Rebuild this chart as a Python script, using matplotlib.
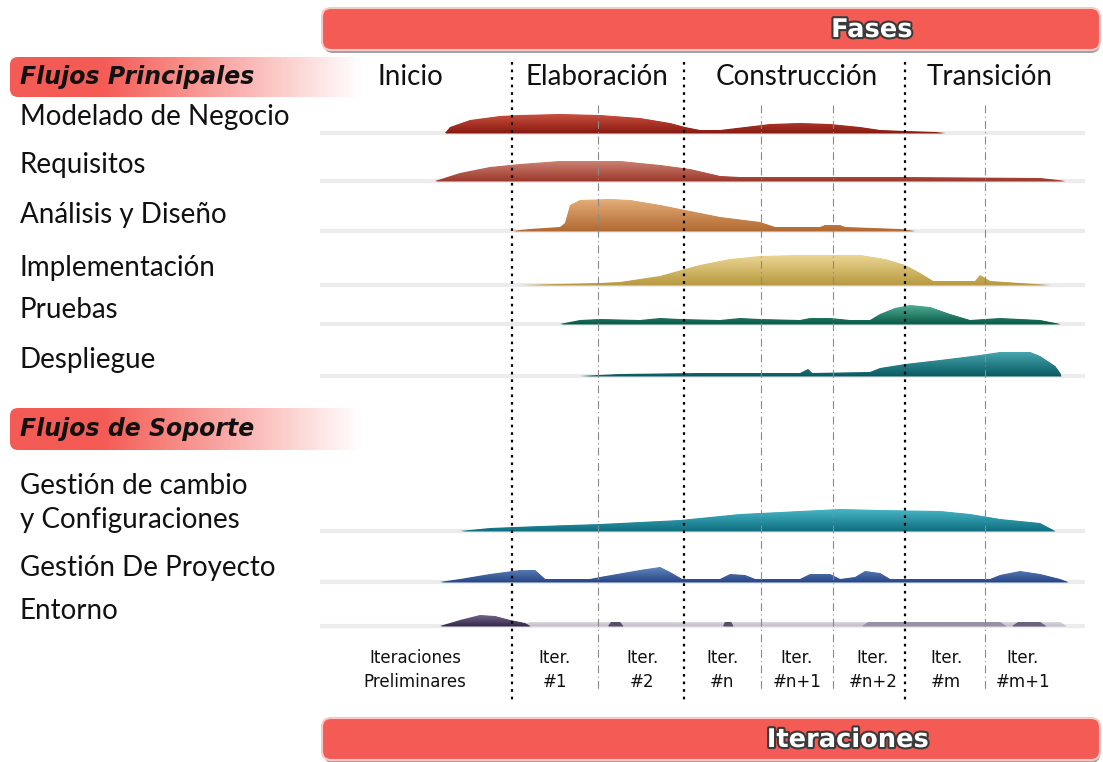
import numpy as np
import matplotlib
matplotlib.use('Agg')
import matplotlib.pyplot as plt
from matplotlib.patches import FancyBboxPatch
from matplotlib.colors import to_rgba
import matplotlib.patheffects as pe

# ---- data ----
phase_names = ["Inicio", "Elaboración", "Construcción", "Transición"]
phase_label_x = [410, 597, 797, 990]
phase_bounds = [512, 684, 905]
iter_bounds = [598, 761, 833, 985]
iter_labels = ["Iteraciones\nPreliminares", "Iter.\n#1", "Iter.\n#2", "Iter.\n#n",
               "Iter.\n#n+1", "Iter.\n#n+2", "Iter.\n#m", "Iter.\n#m+1"]
iter_label_x = [415, 555, 642, 722, 797, 873, 946, 1023]

flow_names = ["Modelado de Negocio", "Requisitos", "Análisis y Diseño",
              "Implementación", "Pruebas", "Despliegue",
              "Gestión de cambio\ny Configuraciones", "Gestión De Proyecto", "Entorno"]
flow_label_y = [117, 165, 215, 268, 310, 360, 503, 568, 611]
baselines = [133, 181, 231, 285, 324, 376, 531, 582, 626]

# effort profiles: time position and hump height
modelado_t = [445, 450, 470, 500, 520, 560, 600, 640, 670, 685, 700, 720, 745, 770, 800, 830, 860, 880, 905, 935, 945]
modelado_h = [0, 6, 13, 17, 18, 19, 18, 15, 10, 6, 3, 3, 6, 9, 10, 9, 6, 3, 2, 1, 0]
requisitos_t = [435, 460, 490, 520, 560, 620, 660, 690, 720, 740, 900, 1040, 1058, 1065]
requisitos_h = [0, 8, 14, 17, 20, 20, 16, 12, 5, 4, 4, 3, 1, 0]
analisis_t = [512, 530, 560, 565, 570, 580, 610, 630, 660, 690, 720, 760, 775, 820, 825, 840, 845, 900, 915]
analisis_h = [0, 2, 4, 8, 26, 31, 32, 31, 26, 20, 14, 9, 4, 4, 6, 6, 4, 2, 0]
implem_t = [520, 560, 600, 620, 640, 660, 685, 700, 730, 760, 800, 860, 885, 905, 920, 933, 975, 980, 990, 1020, 1050]
implem_h = [0, 1, 2, 3, 6, 9, 16, 20, 26, 29, 30, 30, 26, 20, 12, 4, 4, 10, 4, 2, 0]
pruebas_t = [560, 580, 600, 640, 660, 680, 720, 740, 760, 800, 810, 830, 850, 870, 880, 895, 910, 930, 950, 970, 1000, 1040, 1060]
pruebas_h = [0, 4, 5, 4, 6, 5, 4, 6, 5, 4, 6, 6, 4, 4, 10, 16, 19, 17, 10, 4, 6, 4, 0]
despl_t = [580, 620, 700, 800, 808, 812, 870, 880, 905, 940, 980, 1000, 1030, 1040, 1055, 1060, 1061]
despl_h = [0, 2, 3, 3, 7, 3, 4, 8, 12, 16, 21, 24, 24, 20, 10, 3, 0]
cambio_t = [460, 490, 540, 600, 680, 740, 800, 840, 880, 940, 970, 1000, 1040, 1055]
cambio_h = [0, 3, 5, 7, 11, 17, 20, 22, 21, 20, 17, 12, 8, 0]
proyecto_t = [440, 460, 490, 520, 535, 545, 590, 600, 640, 660, 670, 682, 720, 730, 745, 755, 800, 810, 830, 840,
              855, 865, 880, 890, 990, 1000, 1020, 1040, 1060, 1068]
proyecto_h = [0, 3, 8, 12, 12, 3, 3, 5, 12, 15, 10, 3, 3, 8, 7, 3, 3, 8, 8, 3,
              5, 11, 9, 3, 3, 7, 11, 8, 3, 0]
entorno_t = [440, 460, 480, 495, 510, 525, 530]
entorno_h = [0, 6, 11, 10, 6, 3, 0]
entorno_rest_t = [520, 530, 1060, 1066]
entorno_rest_h = [0, 4, 4, 0]
entorno_spots_t = [[608, 611, 620, 623], [723, 725, 731, 733], [862, 868, 1000, 1006], [1012, 1018, 1040, 1046]]
entorno_spots_h = [[0, 4, 4, 0], [0, 4, 4, 0], [0, 4, 4, 0], [0, 4, 4, 0]]

profiles = [(modelado_t, modelado_h), (requisitos_t, requisitos_h), (analisis_t, analisis_h),
            (implem_t, implem_h), (pruebas_t, pruebas_h), (despl_t, despl_h),
            (cambio_t, cambio_h), (proyecto_t, proyecto_h), (entorno_t, entorno_h)]
top_colors = ["#c8503f", "#cc8070", "#e4ad78", "#ead592", "#4fae95", "#45a6ae", "#47b6c6", "#6286bd", "#73648a"]
bottom_colors = ["#8a1a10", "#9c3a2c", "#b26a32", "#b89a40", "#0a5a48", "#0b5a62", "#0f6f80", "#28478a", "#352a4c"]
spot_colors = ["#5a4f6c", "#5a4f6c", "#9a90a8", "#6e6280"]

RED = "#f45b55"

fig = plt.figure(figsize=(11.03, 7.62), dpi=100)
ax = fig.add_axes([0, 0, 1, 1])
ax.axis('off')


def gradient_fill(x, base, h, ctop, cbot, z=3):
    x = np.asarray(x, float)
    y = base - np.asarray(h, float)
    poly = ax.fill_between(x, base, y, color=cbot, lw=0, zorder=z)
    n = 64
    grad = np.zeros((n, 1, 4))
    c0, c1 = np.array(to_rgba(ctop)), np.array(to_rgba(cbot))
    for i in range(n):
        f = i / (n - 1)
        grad[i, 0] = c0 * (1 - f) + c1 * f
    top = base - max(h)
    im = ax.imshow(grad, extent=(x.min(), x.max(), base, top), origin='upper',
                   aspect='auto', zorder=z + 0.1, interpolation='bilinear')
    im.set_clip_path(poly.get_paths()[0], transform=ax.transData)


def red_bar(y0, y1, text, tx):
    shadow = FancyBboxPatch((324, y0 + 3), 776, y1 - y0, boxstyle="round,pad=0,rounding_size=9",
                            fc="#7a7a7a", ec="none", alpha=0.7, zorder=1)
    ax.add_patch(shadow)
    bar = FancyBboxPatch((322, y0), 778, y1 - y0, boxstyle="round,pad=0,rounding_size=9",
                         fc=RED, ec="#f7c9c6", lw=1.5, zorder=2)
    ax.add_patch(bar)
    ax.text(tx, (y0 + y1) / 2 + 1, text, color="white", fontsize=18.5, fontweight='bold',
            family='DejaVu Sans', ha='center', va='center', zorder=5,
            path_effects=[pe.withStroke(linewidth=3, foreground="#3a3a3a")])


def header(y0, y1, text):
    w = 370
    n = 200
    img = np.ones((1, n, 4))
    c = np.array(to_rgba(RED))
    for i in range(n):
        f = min(1.0, max(0.0, (i / (n - 1) - 0.25) / 0.7))
        img[0, i] = c * (1 - f) + np.array([1, 1, 1, 1]) * f
    box = FancyBboxPatch((10, y0), w, y1 - y0, boxstyle="round,pad=0,rounding_size=8",
                         fc="none", ec="none", transform=ax.transData)
    im = ax.imshow(img, extent=(10, 10 + w, y1, y0), origin='upper', aspect='auto',
                   zorder=1, interpolation='bilinear')
    im.set_clip_path(box)
    ax.text(20, (y0 + y1) / 2, text, fontsize=17, fontweight='bold', style='italic',
            family='DejaVu Sans', ha='left', va='center', zorder=5, color="#111111")


red_bar(8, 50, "Fases", 872)
red_bar(718, 760, "Iteraciones", 848)
header(57, 97, "Flujos Principales")
header(408, 450, "Flujos de Soporte")

for name, x in zip(phase_names, phase_label_x):
    ax.text(x, 77, name, fontsize=20, family='Lato', ha='center', va='center', color="#111111")

for name, y in zip(flow_names, flow_label_y):
    ax.text(20, y, name, fontsize=20, family='Lato', ha='left', va='center', color="#111111",
            linespacing=1.4)

for b in baselines:
    ax.plot([320, 1085], [b, b], color="#ececec", lw=3, zorder=1, solid_capstyle='butt')

for xb in phase_bounds:
    ax.plot([xb, xb], [62, 700], color="black", lw=1.6, ls=(0, (1.2, 2.2)), zorder=6)
for xb in iter_bounds:
    ax.plot([xb, xb], [105, 690], color="#8a8a8a", lw=0.8, ls=(0, (7, 3, 1, 3)), zorder=6)

for (t, h), b, ct, cb in zip(profiles, baselines, top_colors, bottom_colors):
    gradient_fill(t, b, h, ct, cb)
gradient_fill(entorno_rest_t, baselines[8], entorno_rest_h, "#dcd8e2", "#c2bccb", z=2.5)
for t, h, c in zip(entorno_spots_t, entorno_spots_h, spot_colors):
    gradient_fill(t, baselines[8], h, c, c, z=2.7)

for lab, x in zip(iter_labels, iter_label_x):
    ax.text(x, 670, lab, fontsize=12, family=['Liberation Sans Narrow', 'DejaVu Sans'],
            ha='center', va='center', linespacing=1.45, color="#111111")

ax.set_xlim(0, 1103)
ax.set_ylim(762, 0)
fig.savefig("out.png", dpi=100)
